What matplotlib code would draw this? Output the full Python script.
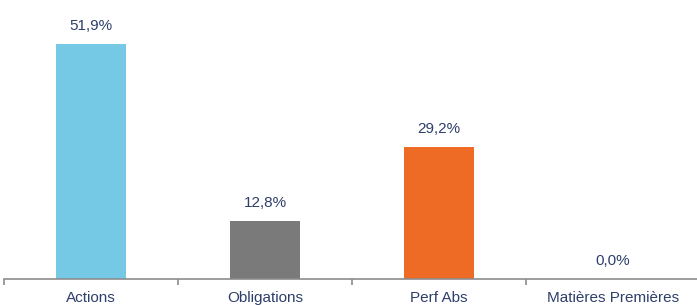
import matplotlib
matplotlib.use("Agg")
import matplotlib.pyplot as plt
import numpy as np

categories = ["Actions", "Obligations", "Perf Abs", "Matières Premières"]
values = [51.9, 12.8, 29.2, 0.0]
labels = ["51,9%", "12,8%", "29,2%", "0,0%"]
colors = ["#75C9E5", "#7A7A7A", "#EE6B26", "#999999"]

plt.rcParams['font.family'] = ['Liberation Sans', 'DejaVu Sans']
text_color = "#2E3F6B"

fig = plt.figure(figsize=(6.97, 3.05), dpi=100)
ax = fig.add_axes([4/697, 26/305, 696/697, 271.7/305])
x = np.arange(len(categories))
ax.bar(x, values, width=0.40, color=colors)
for xi, v, lab in zip(x, values, labels):
    ax.annotate(lab, (xi, v), xytext=(0, 9.8), textcoords="offset points",
                ha="center", va="baseline", fontsize=11, color=text_color)

ax.set_xlim(-0.5, 3.5)
ax.set_ylim(0, 60)
for s in ["top", "right", "left"]:
    ax.spines[s].set_visible(False)
ax.spines["bottom"].set_color("#8C8C8C")
ax.spines["bottom"].set_linewidth(1.2)
ax.set_yticks([])
ax.set_xticks(x)
ax.set_xticklabels(categories, fontsize=11, color=text_color)
ax.tick_params(axis="x", which="major", length=0, pad=8.5)
ax.set_xticks(np.arange(-0.5, 4, 1), minor=True)
ax.tick_params(axis="x", which="minor", length=4, color="#8C8C8C", width=1.2)

fig.savefig("out.png", dpi=100)
